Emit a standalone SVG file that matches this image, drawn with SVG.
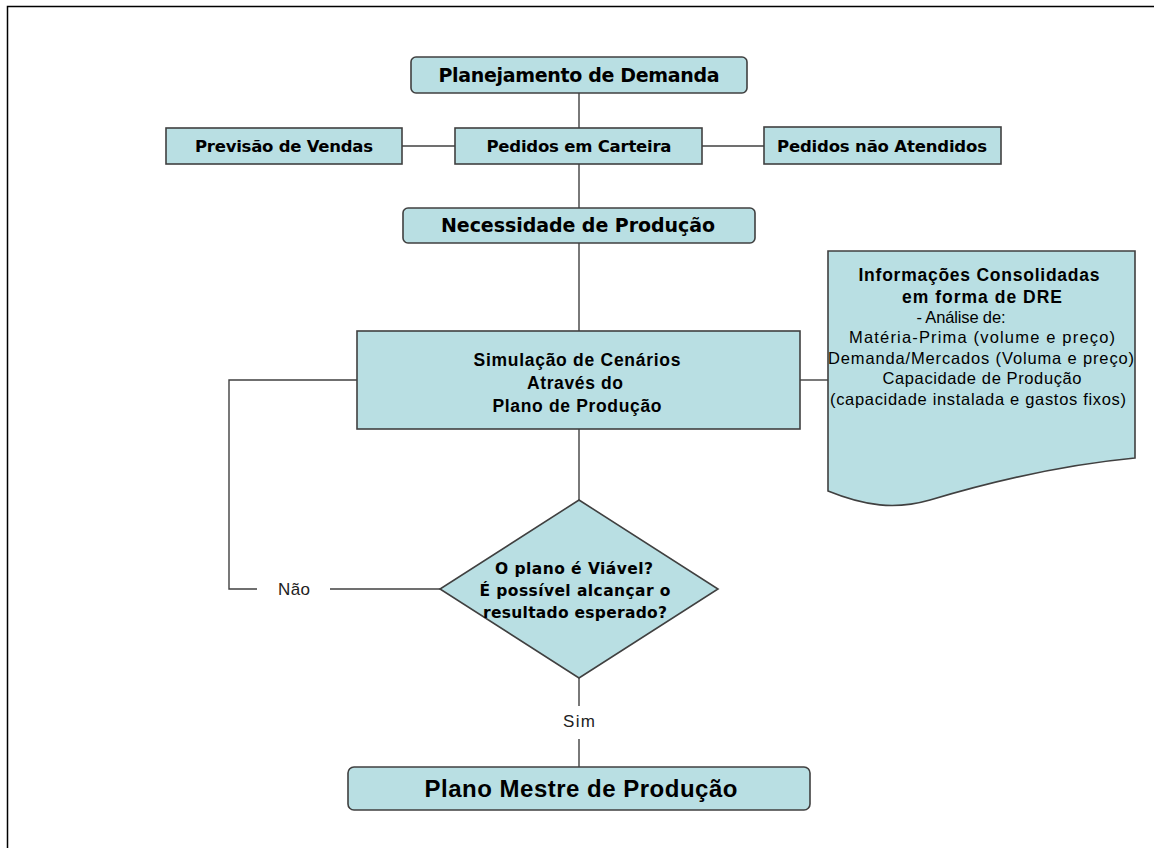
<svg xmlns="http://www.w3.org/2000/svg" width="1154" height="848" viewBox="0 0 1154 848">
<style>
.bg{fill:#ffffff}
.frame{fill:none;stroke:#000;stroke-width:1.5}
.node{fill:#b9dfe3;stroke:#404040;stroke-width:1.6}
.edge{fill:none;stroke:#404040;stroke-width:1.4}
.tv{font-family:"DejaVu Sans",Verdana,sans-serif;font-weight:bold;fill:#000;text-anchor:middle}
.ta{font-family:"Liberation Sans",Arial,sans-serif;font-weight:bold;fill:#000;text-anchor:middle}
.tr{font-family:"Liberation Sans",Arial,sans-serif;fill:#000;text-anchor:middle}
.lbl{font-family:"Liberation Sans",Arial,sans-serif;fill:#222;text-anchor:middle;font-size:17px}
</style>
<rect class="bg" x="0" y="0" width="1154" height="848"/>
<rect class="frame" x="7.5" y="6.5" width="1300" height="1000"/>

<g id="connectors">
<line class="edge" x1="579" y1="93" x2="579" y2="128"/>
<line class="edge" x1="402" y1="146" x2="455" y2="146"/>
<line class="edge" x1="702" y1="146" x2="764" y2="146"/>
<line class="edge" x1="579" y1="164" x2="579" y2="208"/>
<line class="edge" x1="579" y1="243" x2="579" y2="331"/>
<line class="edge" x1="800" y1="380" x2="828" y2="380"/>
<line class="edge" x1="579" y1="429" x2="579" y2="500"/>
<line class="edge" x1="440" y1="589" x2="330" y2="589"/>
<polyline class="edge" points="257,589 229,589 229,380 357,380"/>
<line class="edge" x1="579" y1="678" x2="579" y2="706"/>
<line class="edge" x1="579" y1="739" x2="579" y2="768"/>
<text class="lbl" x="294" y="595" textLength="32" lengthAdjust="spacing">Não</text>
<text class="lbl" x="579" y="727" textLength="32" lengthAdjust="spacing">Sim</text>
</g>

<g id="planejamento">
<rect class="node" x="411" y="57" width="336" height="36" rx="5"/>
<text class="tv" x="579" y="82" font-size="19" textLength="281" lengthAdjust="spacing">Planejamento de Demanda</text>
</g>
<g id="previsao">
<rect class="node" x="166" y="128" width="236" height="36"/>
<text class="tv" x="284" y="152" font-size="16.5" textLength="178" lengthAdjust="spacing">Previsão de Vendas</text>
</g>
<g id="pedidos">
<rect class="node" x="455" y="128" width="247" height="36"/>
<text class="tv" x="579" y="152" font-size="16.5" textLength="185" lengthAdjust="spacing">Pedidos em Carteira</text>
</g>
<g id="naoatendidos">
<rect class="node" x="764" y="127" width="237" height="37"/>
<text class="tv" x="882" y="152" font-size="16.5" textLength="210" lengthAdjust="spacing">Pedidos não Atendidos</text>
</g>
<g id="necessidade">
<rect class="node" x="403" y="208" width="352" height="35" rx="5"/>
<text class="tv" x="578" y="232" font-size="19" textLength="274" lengthAdjust="spacing">Necessidade de Produção</text>
</g>
<g id="simulacao">
<rect class="node" x="357" y="331" width="443" height="98"/>
<text class="ta" x="577" y="366" font-size="17.5" textLength="207" lengthAdjust="spacing">Simulação de Cenários</text>
<text class="ta" x="575" y="389" font-size="17.5" textLength="96" lengthAdjust="spacing">Através do</text>
<text class="ta" x="577" y="412" font-size="17.5" textLength="169" lengthAdjust="spacing">Plano de Produção</text>
</g>
<g id="informacoes">
<path class="node" d="M828,251 H1135 V458 C1050,466 980,485 930,500 C895,510 865,506 828,491 Z"/>
<text class="ta" x="979" y="281" font-size="17.5" textLength="241" lengthAdjust="spacing">Informações Consolidadas</text>
<text class="ta" x="982" y="303" font-size="17.5" textLength="160" lengthAdjust="spacing">em forma de DRE</text>
<text class="tr" x="961" y="323" font-size="16.5" textLength="89" lengthAdjust="spacing">- Análise de:</text>
<text class="tr" x="982" y="343" font-size="16.5" textLength="266" lengthAdjust="spacing">Matéria-Prima (volume e preço)</text>
<text class="tr" x="981" y="364" font-size="16.5" textLength="306" lengthAdjust="spacing">Demanda/Mercados (Voluma e preço)</text>
<text class="tr" x="982" y="384" font-size="16.5" textLength="199" lengthAdjust="spacing">Capacidade de Produção</text>
<text class="tr" x="978" y="405" font-size="16.5" textLength="296" lengthAdjust="spacing">(capacidade instalada e gastos fixos)</text>
</g>
<g id="decisao">
<polygon class="node" points="579,500 718,589 579,678 440,589"/>
<text class="tv" x="574" y="574" font-size="15.5" textLength="158" lengthAdjust="spacing">O plano é Viável?</text>
<text class="tv" x="575" y="596" font-size="15.5" textLength="191" lengthAdjust="spacing">É possível alcançar o</text>
<text class="tv" x="575" y="618" font-size="15.5" textLength="184" lengthAdjust="spacing">resultado esperado?</text>
</g>
<g id="planomestre">
<rect class="node" x="348" y="767" width="462" height="43" rx="6"/>
<text class="ta" x="581" y="797" font-size="24" textLength="313" lengthAdjust="spacing">Plano Mestre de Produção</text>
</g>
</svg>
